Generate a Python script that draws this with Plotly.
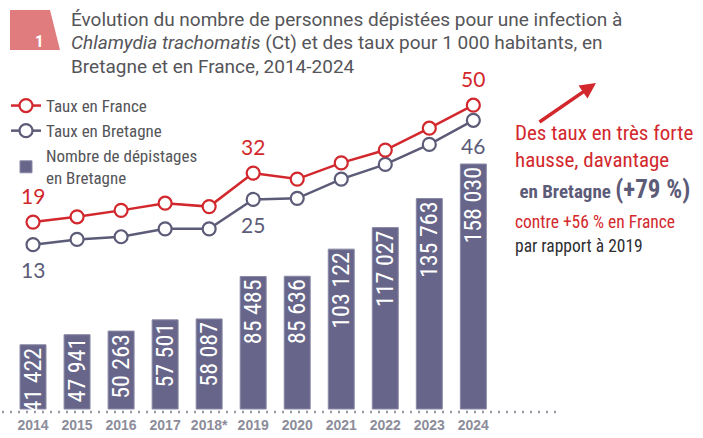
import plotly.graph_objects as go

# Données
annees = ["2014", "2015", "2016", "2017", "2018*", "2019", "2020", "2021", "2022", "2023", "2024"]
depistages_bretagne = [41422, 47941, 50263, 57501, 58087, 85485, 85636, 103122, 117027, 135763, 158030]
taux_france = [19, 20.4, 22.1, 24.0, 23.1, 32, 30.4, 34.7, 38.1, 43.9, 50]
taux_bretagne = [13, 14.4, 15.1, 17.2, 17.2, 25, 25.3, 30.4, 34.3, 39.6, 46]
# Années dont les taux sont affichés
annees_etiquetees = ["2014", "2019", "2024"]

W, H = 703, 438
ML, MR, MT, MB = 0, 146, 60, 26
PW, PH = W - ML - MR, H - MT - MB

def px_x(px):
    return (px - ML) / PW

def px_y(py):
    return (H - MB - py) / PH

ROUGE = "#d2282d"
VIOLET = "#5c5b78"
BARRE = "#67668a"
GRIS_TITRE = "#555559"
NARROW = "Liberation Sans Narrow, Roboto Condensed, DejaVu Sans Condensed, Arial Narrow, sans-serif"
CHIFFRES = "Lato, Carlito, Calibri, sans-serif"

idx = list(range(len(annees)))

fig = go.Figure()

fig.add_trace(go.Bar(
    x=idx, y=depistages_bretagne,
    name="Nombre de dépistages<br>en Bretagne",
    marker=dict(color=BARRE, line=dict(color="#8a89a6", width=1)),
    texttemplate="%{y:,}",
    textposition="inside",
    insidetextanchor="end",
    textangle=-90,
    textfont=dict(family=NARROW, size=24, color="white"),
    width=0.59,
    legendrank=3,
    yaxis="y",
))

fig.add_trace(go.Scatter(
    x=idx, y=taux_bretagne, mode="lines+markers",
    name="Taux en Bretagne",
    line=dict(color=VIOLET, width=2.5),
    marker=dict(size=13, color="white", line=dict(color=VIOLET, width=2.2)),
    legendrank=2,
    yaxis="y2",
))

fig.add_trace(go.Scatter(
    x=idx, y=taux_france, mode="lines+markers",
    name="Taux en France",
    line=dict(color=ROUGE, width=2.5),
    marker=dict(size=13, color="white", line=dict(color=ROUGE, width=2.2)),
    legendrank=1,
    yaxis="y2",
))

annotations = []

# Étiquettes des taux
for a in annees_etiquetees:
    i = annees.index(a)
    annotations.append(dict(x=i, y=taux_france[i], xref="x", yref="y2",
                            text=f"{taux_france[i]:g}", showarrow=False, yshift=27,
                            font=dict(family=CHIFFRES, size=21, color=ROUGE)))
    annotations.append(dict(x=i, y=taux_bretagne[i], xref="x", yref="y2",
                            text=f"{taux_bretagne[i]:g}", showarrow=False, yshift=-25,
                            font=dict(family=CHIFFRES, size=21, color=VIOLET)))

# Titre
titre = [
    "Évolution du nombre de personnes dépistées pour une infection à",
    "<i>Chlamydia trachomatis</i> (Ct) et des taux pour 1 000 habitants, en",
    "Bretagne et en France, 2014-2024",
]
for k, ligne in enumerate(titre):
    annotations.append(dict(x=px_x(70), y=px_y(19 + 23.5 * k), xref="paper", yref="paper",
                            xanchor="left", yanchor="middle", text=ligne, showarrow=False,
                            borderpad=0,
                            font=dict(family="Roboto, sans-serif", size=19, color=GRIS_TITRE)))

# Numéro de la figure
annotations.append(dict(x=px_x(33), y=px_y(29), xref="paper", yref="paper",
                        text="<b>1</b>", showarrow=False,
                        font=dict(family=NARROW, size=17, color="white")))

# Commentaire à droite
commentaire = [
    (133, f"<span style='color:{ROUGE}'>Des taux en très forte</span>", 21),
    (160, f"<span style='color:{ROUGE}'>hausse, davantage</span>", 21),
    (190, f"<span style='color:{VIOLET}'><b> en Bretagne </b><b style='font-size:25px'>(+79 %)</b></span>", 19),
    (222, f"<span style='color:{ROUGE}'>contre +56 % en France</span>", 17.5),
    (246, "<span style='color:#2e2e33'>par rapport à 2019</span>", 17.5),
]
for py, txt, sz in commentaire:
    annotations.append(dict(x=px_x(513), y=px_y(py), xref="paper", yref="paper",
                            xanchor="left", yanchor="middle", text=txt, showarrow=False,
                            font=dict(family=NARROW, size=sz)))

# Flèche
annotations.append(dict(x=px_x(596), y=px_y(83), xref="paper", yref="paper",
                        ax=-58, ay=40, axref="pixel", ayref="pixel",
                        text="", showarrow=True, arrowhead=2, arrowsize=0.9,
                        arrowwidth=3.5, arrowcolor=ROUGE))

shapes = [
    # Badge trapézoïdal
    dict(type="path", xref="paper", yref="paper",
         path=f"M {px_x(10)} {px_y(10)} L {px_x(50)} {px_y(10)} L {px_x(60)} {px_y(50)} L {px_x(10)} {px_y(50)} Z",
         fillcolor="#e07b7e", line=dict(width=0), layer="below"),
    # Ligne de base pointillée
    dict(type="line", xref="paper", yref="paper", x0=px_x(2), x1=px_x(557),
         y0=px_y(412), y1=px_y(412), line=dict(color="#9a9aa6", width=2.5, dash="2px,6px")),
]

fig.update_layout(
    width=W, height=H,
    margin=dict(l=ML, r=MR, t=MT, b=MB, pad=0),
    paper_bgcolor="white", plot_bgcolor="white",
    separators=", ",
    bargap=0.41,
    uniformtext=dict(minsize=24, mode="show"),
    showlegend=True,
    legend=dict(x=px_x(6), y=px_y(88), xanchor="left", yanchor="top",
                font=dict(family=NARROW, size=17, color=GRIS_TITRE),
                bgcolor="rgba(0,0,0,0)", tracegroupgap=0, itemwidth=30),
    xaxis=dict(range=[-0.75, 11.9], tickvals=idx, ticktext=annees,
               showgrid=False, zeroline=False, showline=False, ticks="",
               tickfont=dict(family="Liberation Sans, Arial, sans-serif", size=14,
                             color="#8c8c9a", weight="bold"),
               ticklabelstandoff=3),
    yaxis=dict(range=[-1935, 225112], visible=False, showgrid=False, zeroline=False),
    yaxis2=dict(range=[-31.4, 62.0], overlaying="y", visible=False, showgrid=False, zeroline=False),
    annotations=annotations,
    shapes=shapes,
)

fig.write_html("out.html")
